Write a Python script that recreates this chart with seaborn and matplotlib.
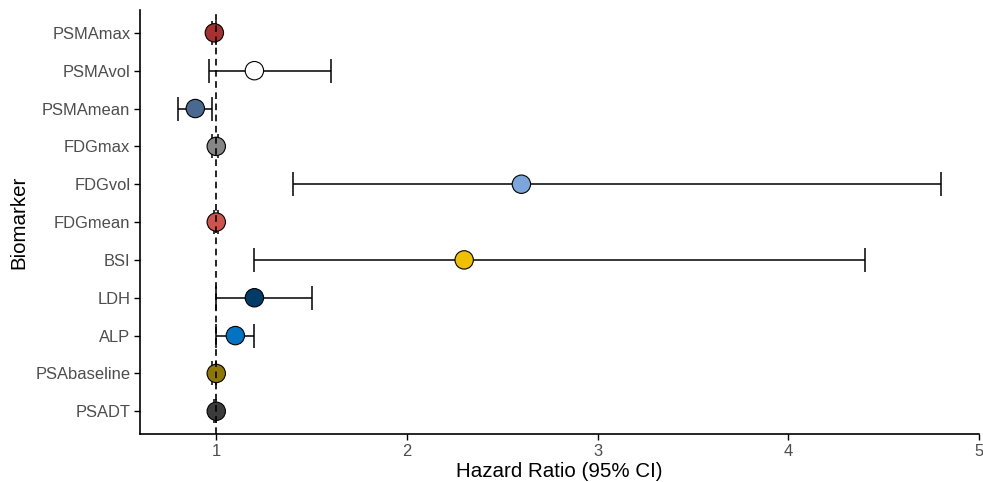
import matplotlib

matplotlib.use("Agg")
import matplotlib.pyplot as plt
import numpy as np
import pandas as pd
import seaborn as sns

# Hazard ratios (top to bottom as shown in the chart)
biomarkers = ["PSMAmax", "PSMAvol", "PSMAmean", "FDGmax", "FDGvol", "FDGmean",
              "BSI", "LDH", "ALP", "PSAbaseline", "PSADT"]
hazard_ratio = [0.99, 1.20, 0.89, 1.00, 2.60, 1.00, 2.30, 1.20, 1.10, 1.00, 1.00]
ci_lower = [0.98, 0.96, 0.80, 0.98, 1.40, 0.99, 1.20, 1.00, 1.00, 0.98, 0.99]
ci_upper = [1.00, 1.60, 0.98, 1.01, 4.80, 1.01, 4.40, 1.50, 1.20, 1.00, 1.00]
point_colors = ["#A73030", "#FFFFFF", "#4A6990", "#868686", "#7AA6DC", "#CD534C",
                "#EFC000", "#003C67", "#0073C2", "#8F7700", "#3B3B3B"]

df = pd.DataFrame({
    "biomarker": biomarkers,
    "hr": hazard_ratio,
    "lo": ci_lower,
    "hi": ci_upper,
})
df["pos"] = np.arange(len(df))[::-1]

sns.set_style("ticks")
plt.rcParams["font.family"] = ["Liberation Sans", "DejaVu Sans"]

fig, ax = plt.subplots(figsize=(9.83, 4.82), dpi=100)
fig.subplots_adjust(left=0.1424, right=0.996, top=0.979, bottom=0.0996)

# confidence intervals
ax.errorbar(
    df["hr"], df["pos"],
    xerr=[df["hr"] - df["lo"], df["hi"] - df["hr"]],
    fmt="none", ecolor="black", elinewidth=1.1, capsize=8.6, capthick=1.1,
    zorder=1,
)

sns.scatterplot(
    data=df, x="hr", y="pos", hue="biomarker",
    palette=dict(zip(biomarkers, point_colors)),
    s=175, edgecolor="black", linewidth=0.8, legend=False, ax=ax, zorder=2,
)

ax.axvline(1, color="black", linestyle=(0, (4, 2.7)), linewidth=1.2, zorder=3)

ax.set_xlim(0.6, 5.0)
ax.set_ylim(-0.6, len(df) - 0.4)
ax.set_xticks([1, 2, 3, 4, 5])
ax.set_xticklabels(["1", "2", "3", "4", "5"])
ax.set_yticks(df["pos"])
ax.set_yticklabels(df["biomarker"])
ax.tick_params(axis="both", colors="black", labelcolor="#4D4D4D",
               labelsize=11.9, length=4, width=1, pad=3)
ax.set_xlabel("Hazard Ratio (95% CI)", fontsize=14.8, color="black", labelpad=2.5)
ax.set_ylabel("Biomarker", fontsize=14.8, color="black", labelpad=5)
sns.despine(ax=ax)
for side in ["left", "bottom"]:
    ax.spines[side].set_linewidth(1.2)
    ax.spines[side].set_color("black")

fig.savefig("out.png", dpi=100)
plt.close(fig)
